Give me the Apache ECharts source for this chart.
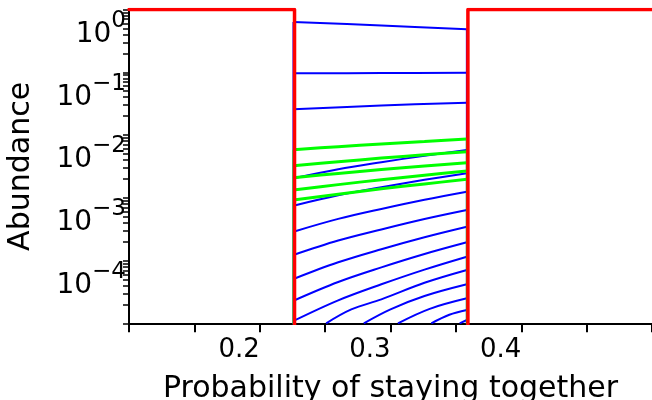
<!DOCTYPE html>
<html>
<head>
<meta charset="utf-8">
<script src="https://cdn.jsdelivr.net/npm/echarts@6/dist/echarts.min.js"></script>
<style>
html,body{margin:0;padding:0;background:#fff;}
#chart{width:652px;height:400px;}
</style>
</head>
<body>
<div id="chart"></div>
<script>
// ---- data ----
const FLOOR = 1e-8; // "zero" abundance (below the axis, clipped)

const redX = [0.1, 0.2266, 0.2266, 0.3592, 0.3592, 0.5];
const redY = [1, 1, FLOOR, FLOOR, 1, 1];

const edgeX = [0.2258, 0.3584];

const topX = [0.2258, 0.293, 0.3584];
const blue1 = [0.632, 0.556, 0.483];
const blue2 = [0.0962, 0.0973, 0.0984];
const blue3 = [0.0257, 0.0295, 0.0327];

const curveX = [0.2258, 0.26, 0.293, 0.326, 0.3584];
const green1 = [5.83e-3, 6.52e-3, 7.22e-3, 7.91e-3, 8.64e-3];
const green2 = [3.24e-3, 3.74e-3, 4.29e-3, 4.84e-3, 5.42e-3];
const green3 = [2.09e-3, 2.44e-3, 2.81e-3, 3.21e-3, 3.62e-3];
const green4 = [1.33e-3, 1.62e-3, 1.94e-3, 2.29e-3, 2.67e-3];
const green5 = [9.22e-4, 1.14e-3, 1.39e-3, 1.66e-3, 1.97e-3];

const blue4  = [2.04e-3, 2.85e-3, 3.69e-3, 4.68e-3, 5.77e-3];
const blue5  = [7.48e-4, 1.095e-3, 1.474e-3, 1.934e-3, 2.455e-3];
const blue6  = [2.88e-4, 4.61e-4, 6.65e-4, 9.32e-4, 1.25e-3];
const blue7  = [1.226e-4, 2.08e-4, 3.13e-4, 4.59e-4, 6.39e-4];
const blue8  = [5.08e-5, 9.37e-5, 1.516e-4, 2.353e-4, 3.46e-4];
const blue9  = [2.29e-5, 4.55e-5, 7.78e-5, 1.271e-4, 1.953e-4];
const blue10 = [1.09e-5, 2.32e-5, 4.18e-5, 7.17e-5, 1.151e-4];

const blue11X = [0.2508, 0.27, 0.293, 0.326, 0.3584];
const blue11  = [1e-5, 1.665e-5, 2.41e-5, 4.42e-5, 7.07e-5];
const blue12X = [0.2796, 0.30, 0.326, 0.3584];
const blue12  = [1e-5, 1.67e-5, 2.72e-5, 4.18e-5];
const blue13X = [0.3057, 0.33, 0.3584];
const blue13  = [1e-5, 1.70e-5, 2.50e-5];
const blue14X = [0.3312, 0.345, 0.3584];
const blue14  = [1e-5, 1.37e-5, 1.63e-5];
const blue15X = [0.3529, 0.3584];
const blue15  = [1e-5, 1.13e-5];

const xTickValues = [0.1, 0.15, 0.2, 0.25, 0.3, 0.35, 0.4, 0.45, 0.5];
const xLabelValues = [0.2, 0.3, 0.4];
const yLabelValues = [1, 0.1, 0.01, 0.001, 0.0001];
const yMantissas = [1, 2, 3, 4, 5, 6, 7, 8, 9];
const yDecades = [1e-5, 1e-4, 1e-3, 1e-2, 1e-1];

// ---- build ----
const FONT = 'DejaVu Sans';
const BLUE = '#0000ff', GREEN = '#00ff00', RED = '#ff0000';

const yTickValues = [];
yDecades.forEach(d => yMantissas.forEach(m => yTickValues.push(+(m * d).toPrecision(3))));
yTickValues.push(1);

function pairs(xs, ys) { return xs.map((x, i) => [x, ys[i]]); }
function curve(xs, ys, color, width) {
  return {
    type: 'line', data: pairs(xs, ys), showSymbol: false, symbol: 'none',
    smooth: 0.35, lineStyle: { color: color, width: width }, silent: true, z: 2
  };
}
function edge(x, top, color, width) {
  return {
    type: 'line', data: [[x, FLOOR], [x, top]], showSymbol: false, symbol: 'none',
    lineStyle: { color: color, width: width }, silent: true, z: 2
  };
}

const series = [
  curve(topX, blue1, BLUE, 2),
  curve(topX, blue2, BLUE, 2),
  curve(topX, blue3, BLUE, 2),
  curve(curveX, blue4, BLUE, 2),
  curve(curveX, blue5, BLUE, 2),
  curve(curveX, blue6, BLUE, 2),
  curve(curveX, blue7, BLUE, 2),
  curve(curveX, blue8, BLUE, 2),
  curve(curveX, blue9, BLUE, 2),
  curve(curveX, blue10, BLUE, 2),
  curve(blue11X, blue11, BLUE, 2),
  curve(blue12X, blue12, BLUE, 2),
  curve(blue13X, blue13, BLUE, 2),
  curve(blue14X, blue14, BLUE, 2),
  curve(blue15X, blue15, BLUE, 2),
  edge(edgeX[0], blue1[0], BLUE, 2),
  edge(edgeX[1], blue1[blue1.length - 1], BLUE, 2),
  curve(curveX, green1, GREEN, 3),
  curve(curveX, green2, GREEN, 3),
  curve(curveX, green3, GREEN, 3),
  curve(curveX, green4, GREEN, 3),
  curve(curveX, green5, GREEN, 3),
  edge(edgeX[0], green1[0], GREEN, 2),
  edge(edgeX[1], green1[green1.length - 1], GREEN, 2),
  {
    type: 'line', data: pairs(redX, redY), showSymbol: false, symbol: 'none',
    lineStyle: { color: RED, width: 3.5, join: 'round', cap: 'round' }, silent: true, z: 3
  }
];

const chart = echarts.init(document.getElementById('chart'), null, { renderer: 'canvas' });
chart.setOption({
  animation: false,
  backgroundColor: '#fff',
  grid: { left: 129, right: 0, top: 9.5, bottom: 76.7, containLabel: false, outerBoundsMode: 'none' },
  xAxis: {
    type: 'value', min: 0.1, max: 0.5,
    axisLine: { show: true, onZero: false, lineStyle: { color: '#000', width: 2 } },
    axisTick: { show: true, customValues: xTickValues, length: 9, lineStyle: { color: '#000', width: 2 } },
    axisLabel: {
      show: true, customValues: xLabelValues, align: 'right', margin: 14,
      fontSize: 26, fontFamily: FONT, color: '#000',
      formatter: v => v.toFixed(1)
    },
    splitLine: { show: false },
    name: 'Probability of staying together', nameLocation: 'middle', nameGap: 51,
    nameTextStyle: { fontSize: 30, fontFamily: FONT, color: '#000' }
  },
  yAxis: {
    type: 'log', logBase: 10, min: 1e-5, max: 1,
    axisLine: { show: true, onZero: false, lineStyle: { color: '#000', width: 2 } },
    axisTick: { show: true, customValues: yTickValues, length: 6, lineStyle: { color: '#000', width: 1.5 } },
    axisLabel: {
      show: true, customValues: yLabelValues, margin: 3, verticalAlign: 'top',
      fontFamily: FONT, color: '#000',
      formatter: v => {
        const e = Math.round(Math.log10(v));
        return '{b|10}{s|' + (e < 0 ? '\u2212' + (-e) : String(e)) + '}';
      },
      rich: {
        b: { fontSize: 28, fontFamily: FONT, color: '#000', lineHeight: 28, padding: [11, 0, 0, 0], verticalAlign: 'top' },
        s: { fontSize: 23, fontFamily: FONT, color: '#000', lineHeight: 23, verticalAlign: 'top' }
      }
    },
    splitLine: { show: false },
    minorTick: { show: false },
    name: 'Abundance', nameLocation: 'middle', nameGap: 93,
    nameTextStyle: { fontSize: 30, fontFamily: FONT, color: '#000' }
  },
  series: series
});
</script>
</body>
</html>
